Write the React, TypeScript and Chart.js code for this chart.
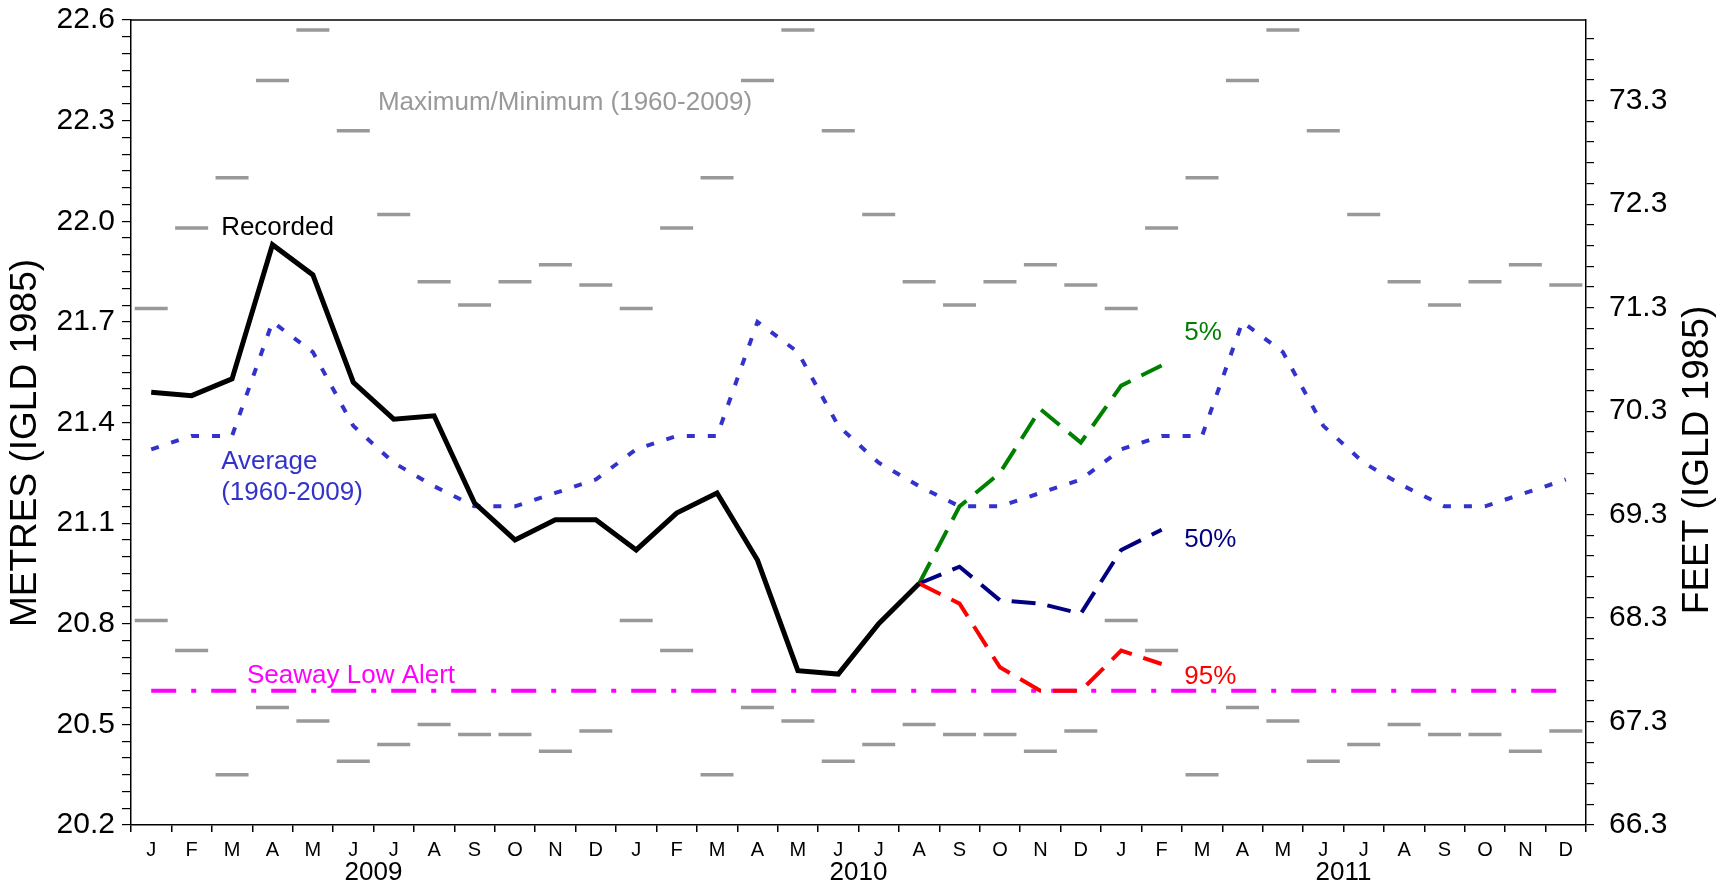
import { useEffect, useRef } from "react";
import { Chart, registerables } from "chart.js";

Chart.register(...registerables);

// ---------- data ----------
const MONTHS = ["J", "F", "M", "A", "M", "J", "J", "A", "S", "O", "N", "D"];
const YEARS = ["2009", "2010", "2011"];

// Monthly statistics 1960-2009 (metres, IGLD 1985)
const MAX_LEVEL = [21.74, 21.98, 22.13, 22.42, 22.57, 22.27, 22.02, 21.82, 21.75, 21.82, 21.87, 21.81];
const MIN_LEVEL = [20.81, 20.72, 20.35, 20.55, 20.51, 20.39, 20.44, 20.5, 20.47, 20.47, 20.42, 20.48];
const AVERAGE_LEVEL = [21.32, 21.36, 21.36, 21.7, 21.61, 21.39, 21.28, 21.21, 21.15, 21.15, 21.19, 21.23];

// Recorded Jan 2009 - Aug 2010
const RECORDED = [
  21.49, 21.48, 21.53, 21.93, 21.84, 21.52, 21.41, 21.42, 21.16, 21.05, 21.11, 21.11,
  21.02, 21.13, 21.19, 20.99, 20.66, 20.65, 20.8, 20.92,
];

// Forecasts Aug 2010 - Feb 2011
const FORECAST_START_INDEX = 19;
const FORECAST_5 = [20.92, 21.15, 21.25, 21.44, 21.34, 21.51, 21.57];
const FORECAST_50 = [20.92, 20.97, 20.87, 20.86, 20.83, 21.02, 21.08];
const FORECAST_95 = [20.92, 20.86, 20.67, 20.6, 20.6, 20.72, 20.68];

const SEAWAY_LOW_ALERT = 20.6;

const METRES_MIN = 20.2;
const METRES_MAX = 22.6;
const FEET_MIN = 66.3;
const FEET_MAX = 74.08;

// ---------- derived ----------
const CATEGORIES = YEARS.flatMap(() => MONTHS);
const repeatYearly = (arr: number[]) => YEARS.flatMap(() => arr);
const padForecast = (arr: number[]) => [
  ...Array(FORECAST_START_INDEX).fill(null),
  ...arr,
];

const FONT = '"Liberation Sans", Arial, sans-serif';

type Note = { text: string; x: number; y: number; color: string };
const NOTES: Note[] = [
  { text: "Recorded", x: 1.73, y: 21.98, color: "#000000" },
  { text: "Maximum/Minimum (1960-2009)", x: 5.61, y: 22.353, color: "#999999" },
  { text: "Average", x: 1.73, y: 21.284, color: "#3333cc" },
  { text: "(1960-2009)", x: 1.73, y: 21.189, color: "#3333cc" },
  { text: "Seaway Low Alert", x: 2.37, y: 20.644, color: "#ff00ff" },
  { text: "5%", x: 25.56, y: 21.668, color: "#008000" },
  { text: "50%", x: 25.56, y: 21.049, color: "#000080" },
  { text: "95%", x: 25.56, y: 20.641, color: "#ff0000" },
];

const overlayPlugin = {
  id: "overlay",
  afterDraw(chart: any) {
    const { ctx, chartArea, scales } = chart;
    const xs = scales.x;
    const ys = scales.y;
    ctx.save();
    // top frame line
    ctx.strokeStyle = "#000";
    ctx.lineWidth = 1.5;
    ctx.beginPath();
    ctx.moveTo(chartArea.left, chartArea.top);
    ctx.lineTo(chartArea.right, chartArea.top);
    ctx.stroke();

    // annotations
    ctx.font = `26px ${FONT}`;
    ctx.textAlign = "left";
    ctx.textBaseline = "middle";
    for (const n of NOTES) {
      ctx.fillStyle = n.color;
      ctx.fillText(n.text, xs.getPixelForValue(n.x), ys.getPixelForValue(n.y));
    }

    // year labels
    ctx.fillStyle = "#000";
    ctx.textAlign = "center";
    ctx.font = `26px ${FONT}`;
    YEARS.forEach((yr, i) => {
      ctx.fillText(yr, xs.getPixelForValue(i * 12 + 5.5), chartArea.bottom + 48);
    });

    // axis titles
    ctx.font = `37px ${FONT}`;
    ctx.save();
    ctx.translate(26, 443);
    ctx.rotate(-Math.PI / 2);
    ctx.fillText("METRES (IGLD 1985)", 0, 0);
    ctx.restore();
    ctx.save();
    ctx.translate(1698, 460);
    ctx.rotate(-Math.PI / 2);
    ctx.fillText("FEET (IGLD 1985)", 0, 0);
    ctx.restore();
    ctx.restore();
  },
};

export default function App() {
  const ref = useRef<HTMLCanvasElement>(null);

  useEffect(() => {
    document.body.style.margin = "0";
    const canvas = ref.current!;
    const lineBase = { pointRadius: 0, fill: false, tension: 0 };
    const chart = new Chart(canvas, {
      type: "line",
      data: {
        labels: CATEGORIES,
        datasets: [
          {
            ...lineBase,
            label: "Recorded",
            data: RECORDED,
            borderColor: "#000000",
            borderWidth: 5,
          },
          {
            ...lineBase,
            label: "95%",
            data: padForecast(FORECAST_95),
            borderColor: "#ff0000",
            borderWidth: 4,
            borderDash: [24, 12],
          },
          {
            ...lineBase,
            label: "50%",
            data: padForecast(FORECAST_50),
            borderColor: "#000080",
            borderWidth: 4,
            borderDash: [24, 12],
          },
          {
            ...lineBase,
            label: "5%",
            data: padForecast(FORECAST_5),
            borderColor: "#008000",
            borderWidth: 4,
            borderDash: [24, 12],
          },
          {
            ...lineBase,
            label: "Seaway Low Alert",
            data: CATEGORIES.map(() => SEAWAY_LOW_ALERT),
            borderColor: "#ff00ff",
            borderWidth: 4,
            borderDash: [25, 15, 5, 15],
          },
          {
            ...lineBase,
            label: "Average",
            data: repeatYearly(AVERAGE_LEVEL),
            borderColor: "#3333cc",
            borderWidth: 4,
            borderDash: [8, 13],
          },
          {
            label: "Maximum",
            data: repeatYearly(MAX_LEVEL),
            showLine: false,
            pointStyle: "line",
            pointRadius: 16.5,
            pointBorderWidth: 3.5,
            pointBorderColor: "#999999",
            borderColor: "#999999",
          },
          {
            label: "Minimum",
            data: repeatYearly(MIN_LEVEL),
            showLine: false,
            pointStyle: "line",
            pointRadius: 16.5,
            pointBorderWidth: 3.5,
            pointBorderColor: "#999999",
            borderColor: "#999999",
          },
        ],
      },
      options: {
        responsive: false,
        animation: false,
        devicePixelRatio: 1,
        events: [],
        layout: { padding: { top: 19, left: 0, right: 0, bottom: 0 } },
        plugins: {
          legend: { display: false },
          tooltip: { enabled: false },
        },
        scales: {
          x: {
            type: "category",
            offset: true,
            border: { display: true, color: "#000", width: 1.5 },
            grid: {
              offset: true,
              drawOnChartArea: false,
              drawTicks: true,
              tickLength: 7,
              color: "#000",
              tickColor: "#000",
              lineWidth: 1.5,
            },
            ticks: {
              autoSkip: false,
              maxRotation: 0,
              minRotation: 0,
              color: "#000",
              padding: 6,
              font: { family: FONT, size: 20 },
            },
            afterFit: (s: any) => {
              s.height = 62;
              s.paddingLeft = 0;
              s.paddingRight = 0;
            },
          },
          y: {
            type: "linear",
            position: "left",
            min: METRES_MIN,
            max: METRES_MAX,
            border: { display: true, color: "#000", width: 1.5 },
            grid: {
              drawOnChartArea: false,
              drawTicks: true,
              tickLength: 9,
              color: "#000",
              tickColor: "#000",
              lineWidth: 1.2,
            },
            afterBuildTicks: (s: any) => {
              const t = [];
              for (let k = 0; k <= 48; k++) t.push({ value: METRES_MIN + k * 0.05 });
              s.ticks = t;
            },
            ticks: {
              autoSkip: false,
              color: "#000",
              padding: 7,
              font: { family: FONT, size: 30 },
              callback: (v: any) => {
                const k = Math.round((Number(v) - METRES_MIN) / 0.05);
                return k % 6 === 0 ? Number(v).toFixed(1) : "";
              },
            },
            afterFit: (s: any) => {
              s.width = 131;
              s.paddingTop = 0;
              s.paddingBottom = 0;
            },
          },
          y2: {
            type: "linear",
            position: "right",
            min: FEET_MIN,
            max: FEET_MAX,
            border: { display: true, color: "#000", width: 1.5 },
            grid: {
              drawOnChartArea: false,
              drawTicks: true,
              tickLength: 8,
              color: "#000",
              tickColor: "#000",
              lineWidth: 1.2,
            },
            afterBuildTicks: (s: any) => {
              const t = [];
              for (let k = 0; FEET_MIN + k * 0.2 <= FEET_MAX + 1e-9; k++)
                t.push({ value: FEET_MIN + k * 0.2 });
              s.ticks = t;
            },
            ticks: {
              autoSkip: false,
              color: "#000",
              padding: 15,
              font: { family: FONT, size: 30 },
              callback: (v: any) => {
                const k = Math.round((Number(v) - FEET_MIN) / 0.2);
                return k % 5 === 0 ? Number(v).toFixed(1) : "";
              },
            },
            afterFit: (s: any) => {
              s.width = 140;
              s.paddingTop = 0;
              s.paddingBottom = 0;
            },
          },
        },
      },
      plugins: [overlayPlugin],
    } as any);
    return () => chart.destroy();
  }, []);

  return <canvas ref={ref} width={1726} height={887} style={{ display: "block" }} />;
}
